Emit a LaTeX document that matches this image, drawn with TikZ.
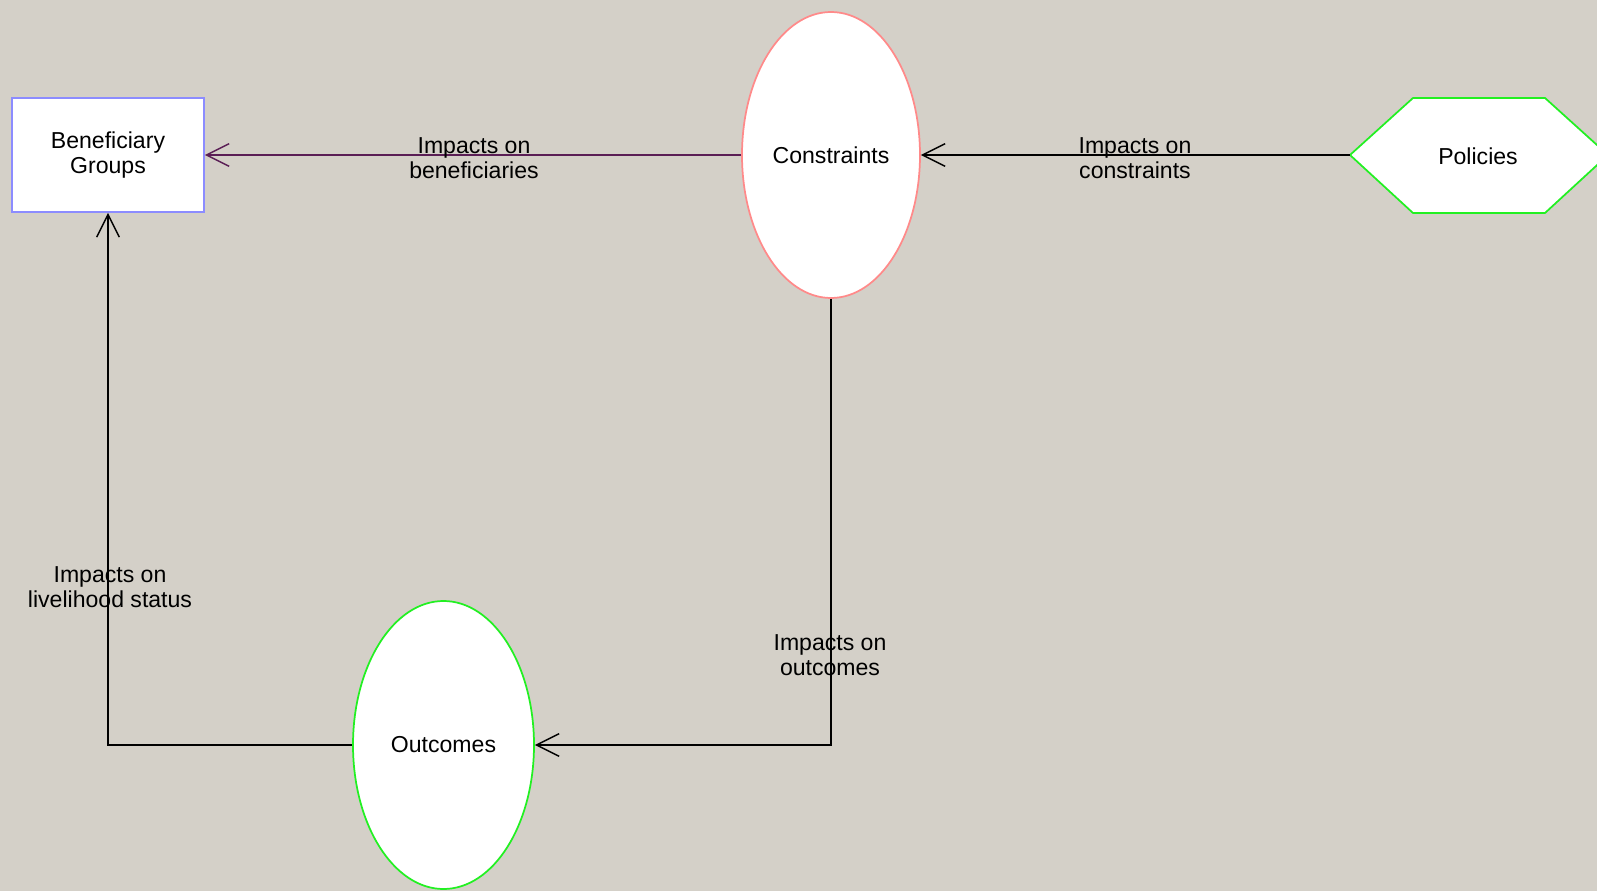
\documentclass[tikz,border=0pt]{standalone}
\usepackage{fontspec}
\setmainfont{Liberation Sans}
\usetikzlibrary{arrows.meta,shapes.geometric}
\definecolor{bggray}{HTML}{D4D0C8}
\definecolor{boxblue}{HTML}{8C8CFF}
\definecolor{conred}{HTML}{FF8A8A}
\definecolor{limegreen}{HTML}{22F022}
\definecolor{linkpurple}{HTML}{5A1E55}
\tikzset{
  lbl/.style={font=\fontsize{17.3}{19}\selectfont, align=center, inner sep=0pt},
  groupbox/.style={draw=boxblue, fill=white, line width=1.3pt, minimum width=144pt, minimum height=85.5pt, lbl},
  oval/.style={ellipse, fill=white, line width=1.3pt, lbl},
  link/.style={line width=1.2pt, draw=black, -{Straight Barb[length=17pt,width=17pt,line width=1.1pt]}},
  purplelink/.style={link, draw=linkpurple}
}
\begin{document}
\begin{tikzpicture}[x=0.75pt, y=-0.75pt]
  % canvas
  \fill[bggray] (0,0) rectangle (1597,891);
  \useasboundingbox (0,0) rectangle (1597,891);
  \clip (0,0) rectangle (1597,891);

  % nodes
  \node[groupbox] (ben) at (108,155) {Beneficiary\\Groups};
  \node[oval, draw=conred, minimum width=133.5pt, minimum height=214.5pt] (con) at (831,155) {Constraints};
  \node[oval, draw=limegreen, minimum width=135.75pt, minimum height=216pt] (out) at (443.5,745) {Outcomes};

  % hexagon for policies
  \draw[draw=limegreen, fill=white, line width=1.3pt]
    (1350,155) -- (1413,98) -- (1545,98) -- (1608,155) -- (1545,213) -- (1413,213) -- cycle;
  \coordinate (polW) at (1350,155);
  \node[lbl] (pol) at (1478,156) {Policies};

  % connectors
  \draw[purplelink] (con.west) -- (ben.east);
  \draw[link] (polW) -- (con.east);
  \draw[link] (con.south) |- (out.east);
  \draw[link] (out.west) -| (ben.south);

  % connector labels
  \node[lbl] (l1) at (474,158) {Impacts on\\beneficiaries};
  \node[lbl] (l2) at (1135,158) {Impacts on\\constraints};
  \node[lbl] (l3) at (110,587) {Impacts on\\livelihood status};
  \node[lbl] (l4) at (830,655) {Impacts on\\outcomes};
\end{tikzpicture}
\end{document}
